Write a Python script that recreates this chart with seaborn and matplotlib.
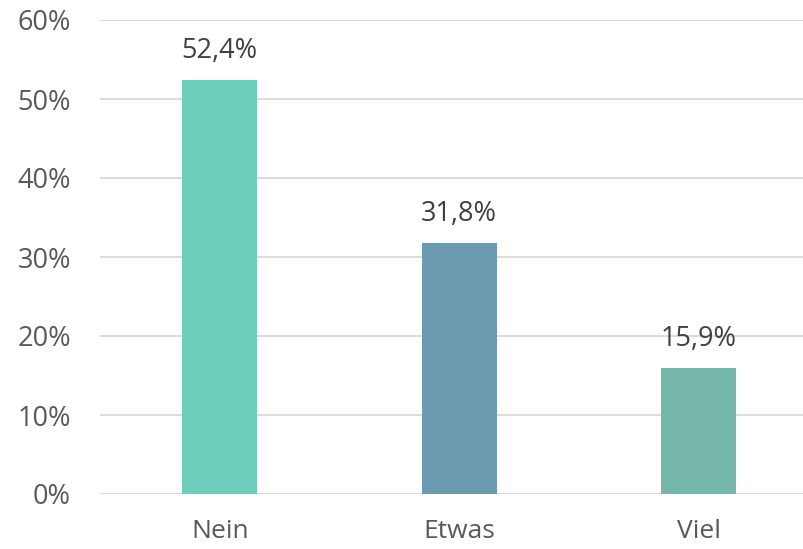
import matplotlib
matplotlib.use("Agg")
import matplotlib.pyplot as plt
import seaborn as sns
import pandas as pd

# Data
categories = ["Nein", "Etwas", "Viel"]
values = [52.4, 31.8, 15.9]
labels = ["52,4%", "31,8%", "15,9%"]
colors = ["#6DCFBB", "#6C9AB0", "#76B7AB"]
yticks = [0, 10, 20, 30, 40, 50, 60]

data = pd.DataFrame({"category": categories, "value": values})

sns.set_theme(style="white")
plt.rcParams["font.family"] = ["Open Sans", "DejaVu Sans"]

fig = plt.figure(figsize=(8.04, 5.49), dpi=100)
ax = fig.add_axes([100 / 804, 55 / 549, 1 - 100 / 804, 474 / 549])

sns.barplot(x="category", y="value", data=data, hue="category",
            palette=colors, width=0.314, legend=False, ax=ax,
            saturation=1, linewidth=0)

ax.set_xlim(-0.5, 2.44)
ax.set_ylim(0, 60)
ax.set_yticks(yticks)
ax.set_yticklabels([f"{t}%" for t in yticks], fontsize=19.5, color="#595959")
ax.tick_params(axis="x", labelsize=19, labelcolor="#595959", length=0, pad=18)
ax.tick_params(axis="y", length=0, pad=21)
ax.yaxis.grid(True, color="#D9D9D9", linewidth=1.3)
ax.set_axisbelow(True)
for s in ax.spines.values():
    s.set_visible(False)
ax.set_xlabel("")
ax.set_ylabel("")

# Value labels
for i, (v, lab) in enumerate(zip(values, labels)):
    ax.text(i, v + 2.8, lab, ha="center", va="baseline", fontsize=19.5, color="#404040")

fig.savefig("out.png", dpi=100)
